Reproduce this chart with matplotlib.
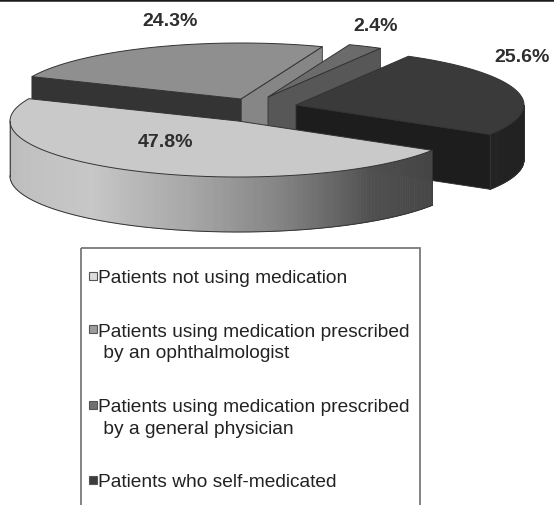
import numpy as np
import matplotlib
matplotlib.use('Agg')
import matplotlib.pyplot as plt
from matplotlib.patches import Polygon, Rectangle
from matplotlib.collections import PolyCollection

plt.rcParams['font.family'] = ['Liberation Sans', 'DejaVu Sans']

# ======================= data ==========================
categories = ['Patients not using medication',
              'Patients using medication prescribed\n by an ophthalmologist',
              'Patients using medication prescribed\n by a general physician',
              'Patients who self-medicated']
shares = [47.8, 24.3, 2.4, 25.6]
share_labels = ['47.8%', '24.3%', '2.4%', '25.6%']

# ======================= style ==========================
top_colors = ['#c9c9c9', '#8f8f8f', '#6b6b6b', '#3a3a3a']
start_face = ['#9a9a9a', '#868686', '#575757', '#1d1d1d']
end_face = ['#9a9a9a', '#343434', '#4a4a4a', '#1d1d1d']
side_colors = [None, '#5a5a5a', '#4a4a4a', '#222222']
legend_colors = ['#dcdcdc', '#9c9c9c', '#707070', '#3c3c3c']
edge = '#333333'

# exploded slice apexes and label spots, image coords (y down)
centers = [(238, 122), (241, 100), (268, 98), (296, 106)]
label_pos = [(165, 142), (170, 21), (376, 26), (522, 57)]
rx, ry, depth = 228, 56, 55
start_angle = 328.4   # slices run clockwise from here

deg = np.array(shares) / sum(shares) * 360
t2 = start_angle - np.concatenate([[0], np.cumsum(deg)[:-1]])
t1 = t2 - deg


def rim(c, t, dz=0.0):
    t = np.radians(np.atleast_1d(t))
    return np.column_stack([c[0] + rx * np.cos(t), c[1] - ry * np.sin(t) + dz])


def light_shade(t):
    t = np.mod(t, 360)
    g = np.interp(t, [180, 230, 257, 280, 306, 330, 360],
                  [0.73, 0.78, 0.66, 0.52, 0.31, 0.27, 0.25])
    return [(v, v, v) for v in g]


fig = plt.figure(figsize=(5.54, 5.06), dpi=100)
ax = fig.add_axes([0, 0, 1, 1])
ax.set_xlim(0, 554)
ax.set_ylim(506, 0)
ax.axis('off')

# back to front: ophthalmologist, physician, self, not using
for i in [1, 2, 3, 0]:
    c = centers[i]
    a1, a2 = t1[i], t2[i]
    apex = np.array(c, dtype=float)

    # cut faces
    for ang, visible, col in [(a1, np.cos(np.radians(a1)) > 0, start_face[i]),
                              (a2, np.cos(np.radians(a2)) < 0, end_face[i])]:
        if visible:
            p = rim(c, ang)[0]
            quad = [apex, p, p + [0, depth], apex + [0, depth]]
            ax.add_patch(Polygon(quad, closed=True, fc=col, ec=edge, lw=0.6))

    # outer side, front half only
    ts = np.linspace(a1, a2, 200)
    mids = (ts[:-1] + ts[1:]) / 2
    front = np.sin(np.radians(mids)) < 0
    if front.any():
        top = rim(c, ts)
        bot = rim(c, ts, depth)
        quads = [[top[k], top[k + 1], bot[k + 1], bot[k]]
                 for k in range(len(mids)) if front[k]]
        if side_colors[i] is None:
            cols = light_shade(mids[front])
        else:
            cols = [side_colors[i]] * len(quads)
        ax.add_collection(PolyCollection(quads, facecolors=cols,
                                         edgecolors=cols, linewidths=0.5))
        idx = np.where(front)[0]
        k0, k1 = idx[0], idx[-1] + 1
        ax.plot(bot[k0:k1 + 1, 0], bot[k0:k1 + 1, 1], color=edge, lw=0.7)
        for k in (k0, k1):
            ax.plot([top[k, 0], bot[k, 0]], [top[k, 1], bot[k, 1]],
                    color=edge, lw=0.6)

    # top face
    arc = rim(c, np.linspace(a1, a2, 120))
    ax.add_patch(Polygon(np.vstack([apex, arc]), closed=True,
                         fc=top_colors[i], ec=edge, lw=0.7))

for (x, y), s in zip(label_pos, share_labels):
    ax.text(x, y, s, fontsize=14, fontweight='bold', color='#2e2e2e',
            ha='center', va='center')

# top rule of the figure
ax.plot([0, 554], [0.8, 0.8], color='#1a1a1a', lw=1.8)

# legend box (runs off the bottom edge as in the original)
ax.add_patch(Rectangle((81, 249), 339, 300, fill=False, ec='#7a7a7a', lw=1.3))
line_h, gap = 21.7, 32
y = 283
for lab, col in zip(categories, legend_colors):
    lines = lab.split('\n')
    ax.add_patch(Rectangle((88.5, y - 10.5), 8, 8, fc=col, ec='#555555', lw=0.8))
    for k, line in enumerate(lines):
        ax.text(97.5, y + k * line_h, line, fontsize=13.8, color='#222222',
                ha='left', va='baseline')
    y += len(lines) * line_h + gap

fig.savefig('out.png', dpi=100)
